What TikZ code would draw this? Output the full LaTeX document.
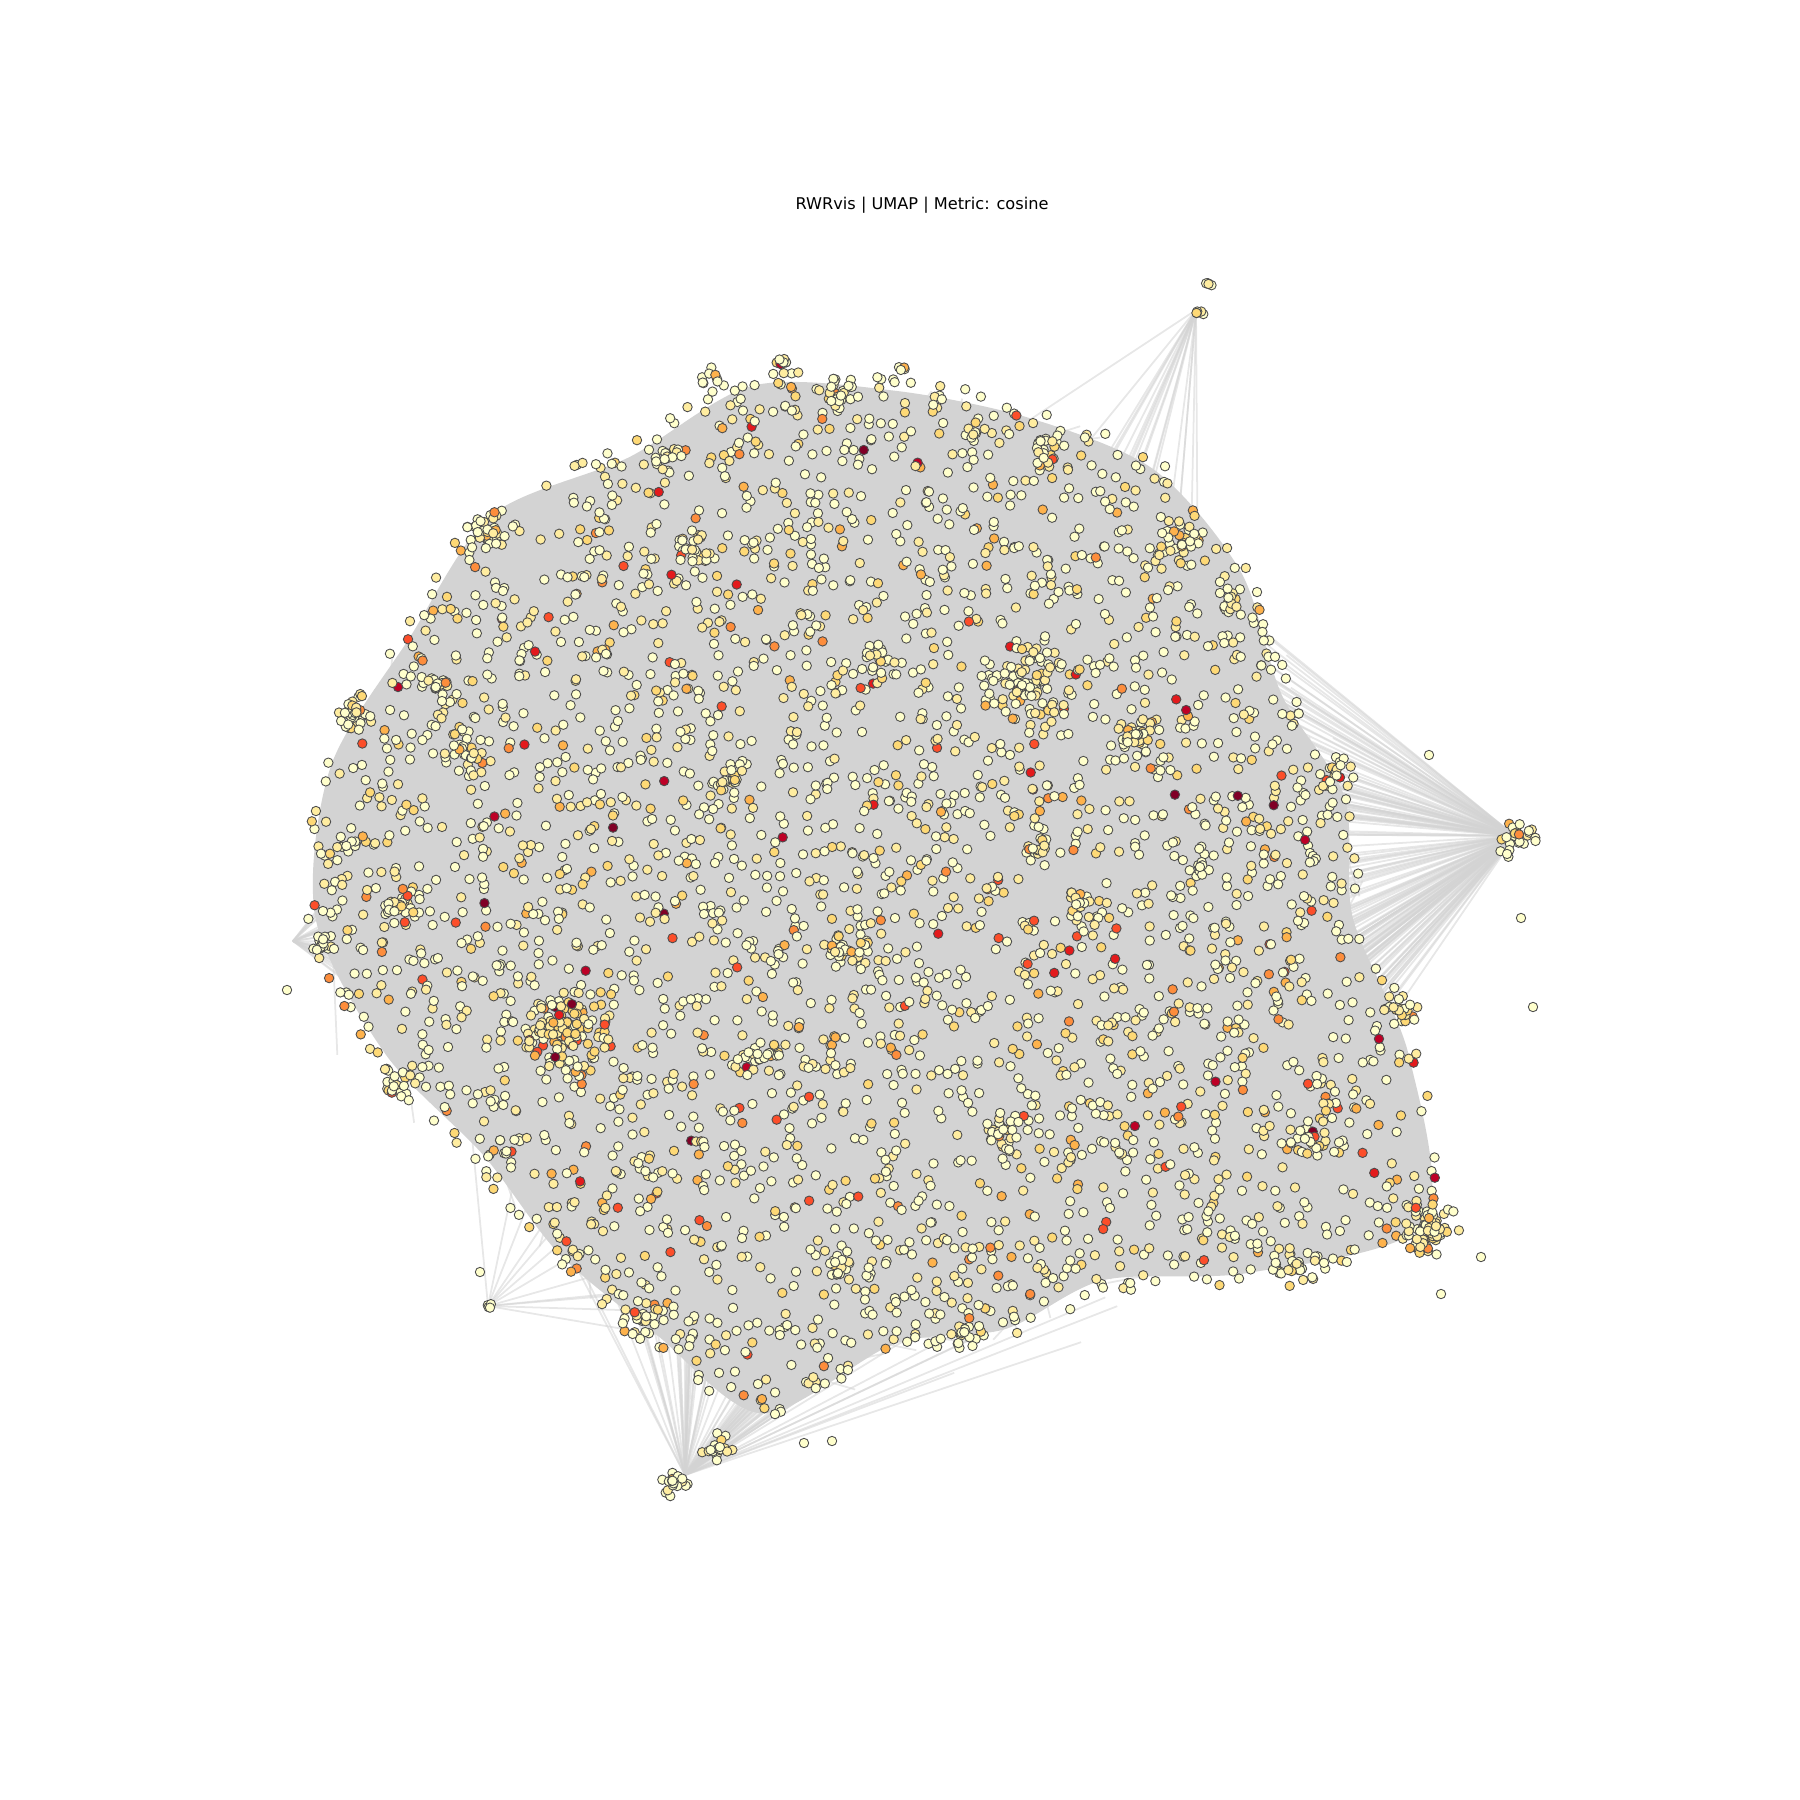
\documentclass[tikz,border=0pt]{standalone}
\usepackage{fontspec}
\setmainfont{DejaVu Sans}
\usepackage{tikz}
\usetikzlibrary{calc}
\definecolor{ylrd0}{HTML}{FFFFCC}
\definecolor{ylrd1}{HTML}{FFEDA0}
\definecolor{ylrd2}{HTML}{FED976}
\definecolor{ylrd3}{HTML}{FEB24C}
\definecolor{ylrd4}{HTML}{FD8D3C}
\definecolor{ylrd5}{HTML}{FC4E2A}
\definecolor{ylrd6}{HTML}{E31A1C}
\definecolor{ylrd7}{HTML}{BD0026}
\definecolor{ylrd8}{HTML}{800026}
\definecolor{edgeGray}{HTML}{D3D3D3}
\tikzset{
  vnodes/.style={draw=black!70, line width=0.25pt},
  edgeline/.style={draw=edgeGray, draw opacity=0.55, line width=0.5pt},
  hullfill/.style={fill=edgeGray},
}
% colour index of a node from a uniform number
\newcommand{\heatidx}[1]{\pgfmathtruncatemacro\ci{(#1>.6)+(#1>.84)+(#1>.925)+(#1>.958)+(#1>.977)+(#1>.987)+(#1>.993)+(#1>.997)}}
% angle / radius here / radius at next angle
\newcommand{\sectorList}{0/482/490, 15/490/470, 30/470/515, 45/515/545, 60/545/545, 75/545/555, 90/555/580, 105/580/560, 120/560/600, 135/600/590, 150/590/615, 165/615/610, 180/610/555, 195/555/500, 210/500/500, 225/500/505, 240/505/540, 255/540/448, 270/448/448, 285/448/440, 300/440/528, 315/528/643, 330/643/560, 345/560/482}

\begin{document}
\begin{tikzpicture}[x=0.01cm, y=-0.01cm]
\useasboundingbox (0,0) rectangle (1800,1800);
\pgfmathsetseed{4242}
\coordinate (ctr) at (895,918);
\coordinate (hubT) at (1196,310);
\coordinate (hubR) at (1515,836);
\coordinate (hubB) at (685,1475);
\coordinate (hubL) at (293,941);
\coordinate (hubS) at (488,1306);

% edges
\begin{scope}[shift={(ctr)}]
\foreach \hub/\amin/\arange/\n in {hubT/35/60/20, hubR/290/140/160, hubB/200/130/80, hubL/135/95/30, hubS/195/55/12} {
  \foreach \j in {1,...,\n} {
    \pgfmathsetmacro\ang{\amin+\arange*rnd}
    \pgfmathsetmacro\rr{500*(0.4+0.55*rnd)}
    \coordinate (tgt) at (-\ang:\rr);
    \draw[edgeline] (\hub) -- (tgt);
  }
}
\foreach \a/\ra/\rb in \sectorList {
  \foreach \j in {1,...,8} {
    \pgfmathsetmacro\angA{\a+15*rnd}
    \pgfmathsetmacro\angB{\angA+(rnd-0.5)*40}
    \pgfmathsetmacro\rA{min(\ra,\rb)*(0.85+0.13*rnd)}
    \pgfmathsetmacro\rB{min(\ra,\rb)*(0.8+0.15*rnd)}
    \coordinate (ea) at (-\angA:\rA);
    \coordinate (eb) at (-\angB:\rB);
    \draw[edgeline] (ea) -- (eb);
  }
}
\foreach \a/\ra/\rb [count=\i] in \sectorList
  \coordinate (h\i) at (-\a:{0.95*\ra});
\fill[hullfill] plot[smooth cycle, tension=0.5] coordinates {(h1) (h2) (h3) (h4) (h5) (h6) (h7) (h8) (h9) (h10) (h11) (h12) (h13) (h14) (h15) (h16) (h17) (h18) (h19) (h20) (h21) (h22) (h23) (h24)};
\end{scope}

\begin{scope}[vnodes]
% nodes spread over the layout
\begin{scope}[shift={(ctr)}]
\foreach \a/\ra/\rb in \sectorList {
  \pgfmathtruncatemacro\n{2.3*((\ra/100)^2+(\rb/100)^2)}
  \foreach \j in {1,...,\n} {
    \pgfmathsetmacro\f{rnd}
    \pgfmathsetmacro\ang{\a+15*\f}
    \pgfmathsetmacro\rr{(\ra+(\rb-\ra)*\f)*0.97*sqrt(rnd)}
    \pgfmathsetmacro\u{rnd}
    \heatidx{\u}
    \filldraw[fill=ylrd\ci] (-\ang:\rr) circle[radius=4.7];
  }
}
\end{scope}

% dense groups
\foreach \cx/\cy/\n/\s/\h in {781/362/10/12/1.5, 838/396/25/22/1.5, 712/379/10/15/1.5, 901/370/4/6/1, 976/430/10/12/1, 1045/450/20/20/0.9, 666/459/15/18/1.2, 488/530/30/22/1, 695/551/20/18/1, 1182/545/25/25/0.8, 1228/597/15/18/1, 356/712/35/18/1.5, 436/689/15/20/1, 471/758/20/22/0.8, 1027/689/80/45/0.7, 1137/735/30/22/0.8, 1337/775/20/18/1.2, 1515/836/25/22/1.5, 402/907/25/20/1.2, 321/947/15/15/1.5, 344/844/10/12/1.5, 568/1033/110/45/0.4, 396/1085/20/20/1.2, 1401/1010/20/18/0.5, 1429/1228/80/30/0.5, 1309/1137/25/22/0.8, 1297/1263/25/25/0.8, 672/1481/20/16/2, 717/1449/18/16/1.5, 964/1332/20/20/1, 999/1131/25/22/1, 758/1056/20/22/1, 850/953/20/22/0.8, 735/781/20/20/1, 1208/283/5/8/4, 1196/312/5/8/4, 488/1306/4/6/3, 643/1320/25/25/1, 838/1263/15/18/1, 1079/907/15/18/1, 1200/867/10/12/1, 1039/850/15/15/1, 884/660/20/22/0.9} {
  \foreach \j in {1,...,\n} {
    \pgfmathsetmacro\ang{360*rnd}
    \pgfmathsetmacro\rr{\s*rnd}
    \pgfmathsetmacro\u{rnd^\h}
    \heatidx{\u}
    \filldraw[fill=ylrd\ci] ($(\cx,\cy)+(\ang:\rr)$) circle[radius=4.7];
  }
}
% lone nodes
\foreach \px/\py in {1533/1007, 1429/755, 1441/1294, 287/990, 480/1272, 804/1443, 832/1441, 1521/918, 1481/1257}
  \filldraw[fill=ylrd0] (\px,\py) circle[radius=4.7];
\end{scope}

\node[font=\fontsize{4.6}{5.5}\selectfont] (title) at (922,205) {RWRvis | UMAP | Metric: cosine};
\end{tikzpicture}
\end{document}
